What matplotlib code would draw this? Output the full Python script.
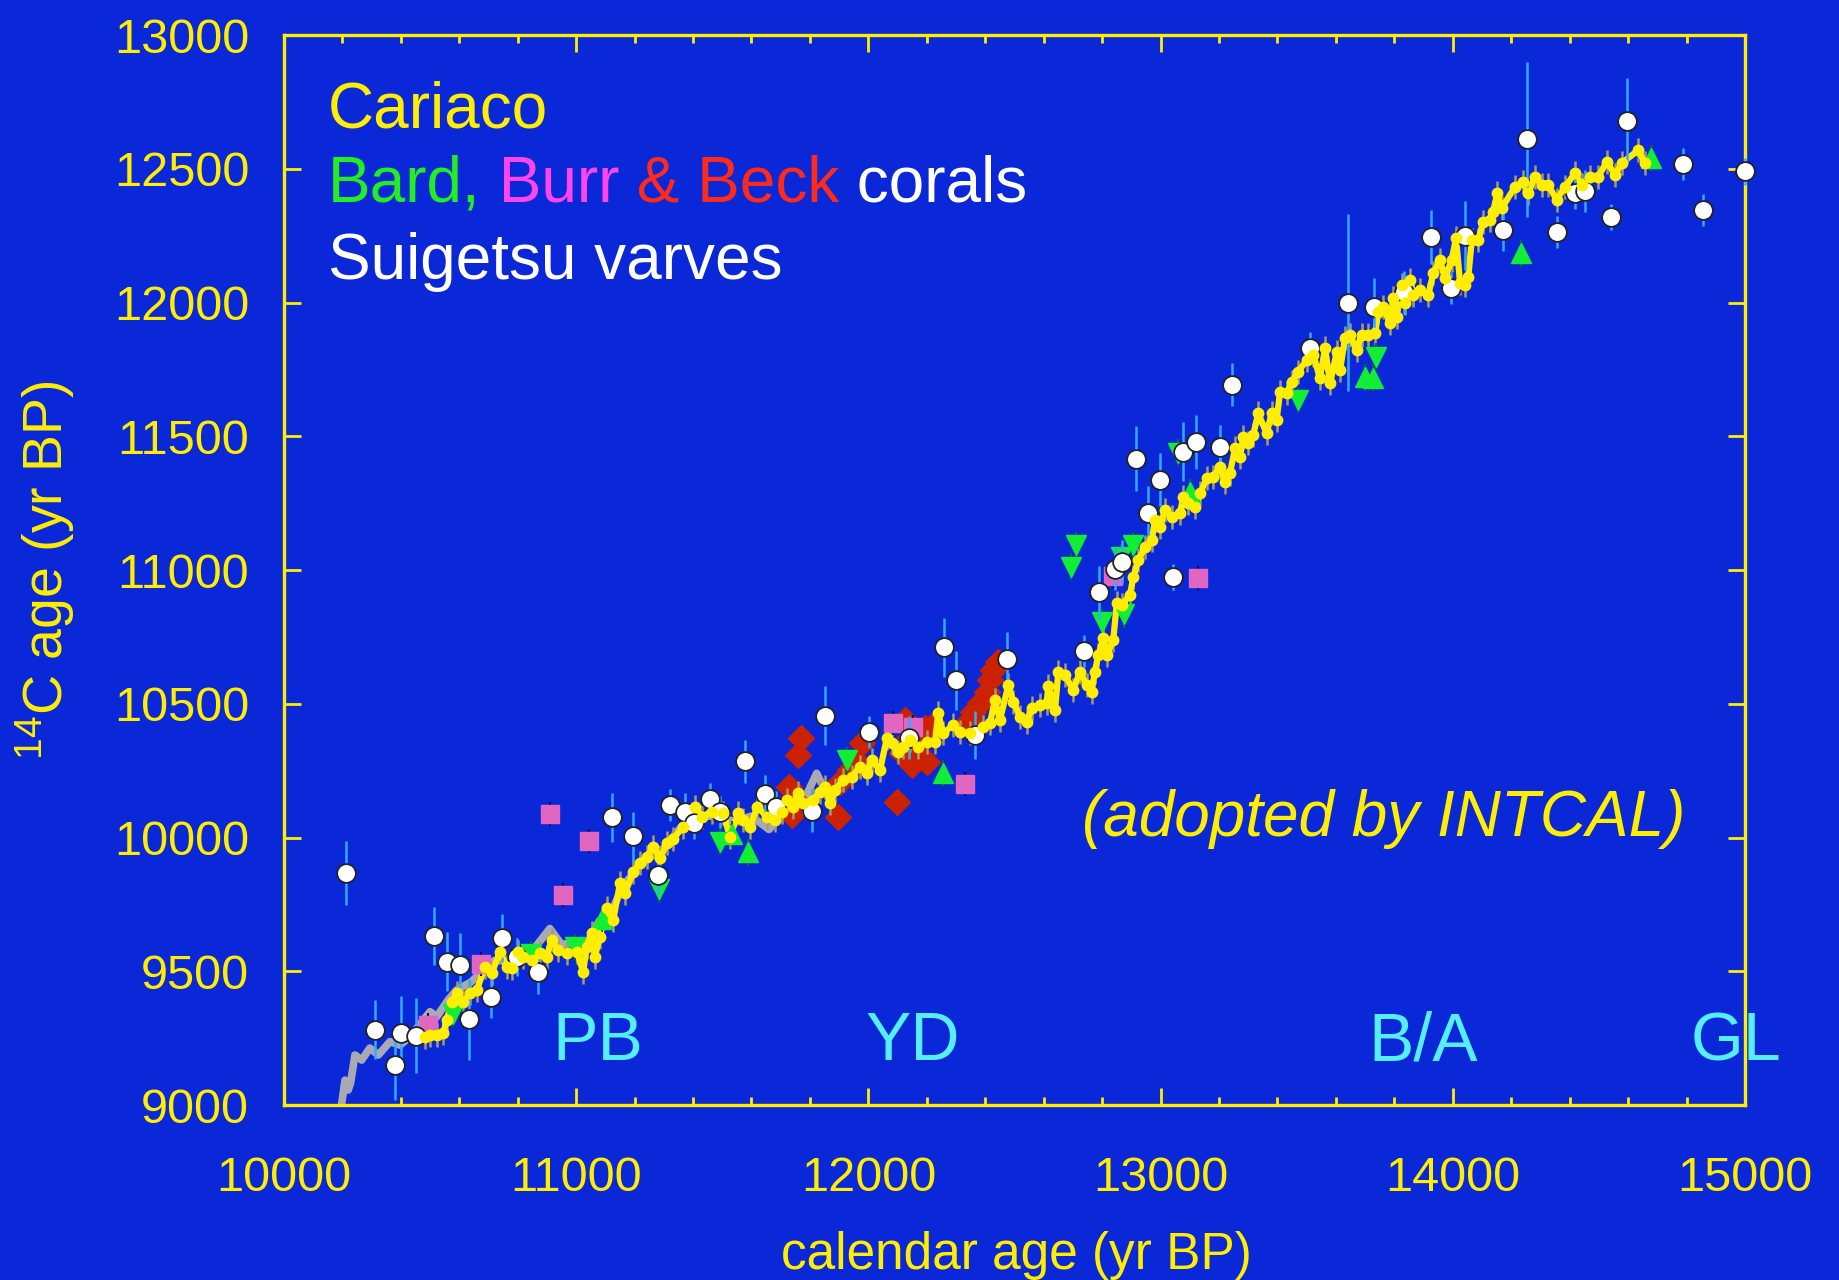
import matplotlib
matplotlib.use("Agg")
import matplotlib.pyplot as plt
from matplotlib.ticker import MultipleLocator

plt.rcParams['font.family'] = ['Liberation Sans', 'DejaVu Sans']
plt.rcParams['mathtext.fontset'] = 'custom'
plt.rcParams['mathtext.rm'] = 'Liberation Sans'
plt.rcParams['mathtext.it'] = 'Liberation Sans:italic'

BG = '#0a28d8'
YEL = '#ffee00'
CYAN = '#55eeff'

# Cariaco basin record (calendar age, 14C age)
cariaco_cal = [10483, 10500, 10523, 10545, 10557, 10574, 10591, 10614, 10637, 10660,
               10688, 10711, 10739, 10762, 10779, 10800, 10819, 10848, 10876, 10899,
               10916, 10939, 10967, 11002, 11024, 11036, 11053, 11064, 11081, 11104,
               11127, 11150, 11167, 11195, 11218, 11241, 11264, 11287, 11310, 11332,
               11367, 11407, 11430, 11464, 11504, 11526, 11555, 11572, 11595, 11620,
               11652, 11680, 11703, 11720, 11743, 11760, 11777, 11811, 11834, 11851,
               11869, 11886, 11914, 11943, 11971, 11994, 12011, 12040, 12063, 12080,
               12100, 12120, 12142, 12171, 12199, 12228, 12239, 12256, 12291, 12314,
               12348, 12393, 12416, 12433, 12450, 12479, 12496, 12519, 12542, 12559,
               12587, 12610, 12616, 12639, 12650, 12673, 12701, 12724, 12747, 12764,
               12775, 12787, 12804, 12815, 12838, 12850, 12867, 12895, 12907, 12924,
               12947, 12970, 12981, 12998, 13015, 13038, 13066, 13078, 13095, 13118,
               13135, 13158, 13180, 13203, 13220, 13237, 13255, 13272, 13283, 13300,
               13317, 13334, 13363, 13380, 13397, 13409, 13431, 13449, 13471, 13500,
               13523, 13545, 13563, 13580, 13603, 13614, 13631, 13648, 13671, 13688,
               13710, 13734, 13745, 13762, 13785, 13796, 13808, 13825, 13836, 13853,
               13865, 13888, 13916, 13933, 13956, 13973, 13996, 14011, 14025, 14042,
               14053, 14065, 14087, 14104, 14127, 14138, 14152, 14167, 14213, 14241,
               14258, 14281, 14304, 14327, 14355, 14384, 14418, 14441, 14469, 14498,
               14527, 14555, 14578, 14635, 14658]
cariaco_c14 = [9255, 9262, 9262, 9268, 9318, 9386, 9418, 9386, 9418, 9430,
               9517, 9492, 9573, 9517, 9511, 9573, 9555, 9542, 9567, 9555,
               9617, 9580, 9567, 9573, 9498, 9592, 9642, 9555, 9630, 9735,
               9692, 9829, 9791, 9872, 9904, 9928, 9966, 9922, 9978, 9995,
               10041, 10115, 10078, 10097, 10090, 10003, 10090, 10066, 10041, 10115,
               10078, 10066, 10097, 10140, 10115, 10165, 10128, 10140, 10171, 10190,
               10128, 10178, 10215, 10227, 10265, 10240, 10290, 10252, 10371, 10352,
               10320, 10340, 10365, 10340, 10358, 10358, 10464, 10390, 10421, 10396,
               10390, 10414, 10427, 10514, 10439, 10570, 10508, 10452, 10433, 10483,
               10495, 10502, 10567, 10477, 10620, 10607, 10551, 10620, 10570, 10545,
               10620, 10682, 10745, 10682, 10738, 10875, 10869, 10907, 10975, 11037,
               11087, 11112, 11187, 11162, 11224, 11199, 11212, 11274, 11249, 11237,
               11287, 11343, 11349, 11386, 11330, 11361, 11455, 11424, 11498, 11474,
               11505, 11586, 11511, 11586, 11561, 11667, 11661, 11704, 11742, 11785,
               11804, 11717, 11829, 11698, 11816, 11747, 11866, 11879, 11822, 11879,
               11880, 11885, 11966, 11985, 11922, 12016, 11947, 12065, 11997, 12084,
               12028, 12047, 12028, 12109, 12159, 12090, 12159, 12240, 12072, 12066,
               12097, 12234, 12234, 12302, 12309, 12340, 12408, 12352, 12433, 12452,
               12408, 12471, 12440, 12440, 12384, 12433, 12483, 12440, 12471, 12471,
               12527, 12477, 12521, 12570, 12521]
cariaco_err = 45

# earlier Cariaco version (grey)
grey_cal = [10197, 10209, 10220, 10228, 10243, 10266, 10294, 10323, 10363, 10397,
            10431, 10500, 10523, 10562, 10591, 10640, 10680, 10720, 10770, 10820,
            10860, 10910, 10950, 11000, 11040, 11080, 11120, 11160, 11200, 11240,
            11300, 11360, 11420, 11480, 11540, 11600, 11660, 11720, 11780, 11823,
            11850, 11900]
grey_c14 = [9000, 9093, 9056, 9082, 9187, 9168, 9213, 9187, 9237, 9224,
            9255, 9349, 9330, 9393, 9430, 9460, 9500, 9540, 9540, 9580,
            9590, 9660, 9600, 9610, 9610, 9690, 9720, 9820, 9870, 9920,
            9960, 10040, 10080, 10080, 10060, 10080, 10030, 10110, 10140, 10240,
            10180, 10200]

# Lake Suigetsu varves
sui_cal = [10213, 10313, 10381, 10401, 10453, 10514, 10558, 10602, 10634, 10710,
           10746, 10799, 10871, 11124, 11196, 11280, 11320, 11372, 11404, 11457,
           11493, 11577, 11645, 11685, 11806, 11850, 12002, 12139, 12259, 12299,
           12364, 12476, 12737, 12789, 12845, 12869, 12917, 12957, 12998, 13042,
           13078, 13122, 13202, 13246, 13511, 13640, 13732, 13832, 13925, 13993,
           14041, 14173, 14254, 14358, 14418, 14454, 14543, 14595, 14787, 14856,
           15000]
sui_c14 = [9868, 9281, 9149, 9268, 9259, 9632, 9535, 9522, 9320, 9404,
           9623, 9553, 9496, 10075, 10004, 9860, 10123, 10097, 10053, 10145,
           10097, 10285, 10162, 10114, 10101, 10456, 10395, 10373, 10711, 10588,
           10382, 10667, 10697, 10917, 11004, 11031, 11417, 11215, 11338, 10974,
           11443, 11478, 11461, 11693, 11829, 12000, 11982, 12039, 12246, 12053,
           12250, 12272, 12610, 12263, 12408, 12417, 12320, 12680, 12518, 12346,
           12491]
sui_err = [120, 110, 130, 140, 140, 110, 110, 120, 150, 80,
           90, 70, 80, 90, 90, 70, 60, 70, 60, 60,
           60, 80, 70, 60, 80, 110, 60, 80, 110, 110,
           90, 100, 60, 100, 80, 80, 120, 100, 100, 50,
           110, 100, 80, 80, 60, 330, 110, 80, 100, 60,
           130, 80, 290, 60, 60, 80, 50, 160, 60, 60,
           50]

# Bard corals (two sites)
bard_dn_cal = [10578, 10847, 10996, 11284, 11493, 11926, 12693, 12711, 12798, 12866,
               12875, 12905, 13060, 13471, 13737]
bard_dn_c14 = [9340, 9565, 9590, 9807, 9985, 10289, 11013, 11092, 10806, 11048,
               10834, 11092, 11439, 11636, 11798]
bard_up_cal = [11087, 11533, 11589, 12256, 13100, 13700, 13728, 14235, 14679]
bard_up_c14 = [9697, 10013, 9945, 10241, 11292, 11721, 11719, 12184, 12540]
bard_err = 50

# Burr corals
burr_cal = [10492, 10675, 10911, 10955, 11044, 12083, 12154, 12331, 12836, 13127]
burr_c14 = [9298, 9526, 10088, 9785, 9986, 10427, 10413, 10200, 10978, 10970]
burr_err = 45
burr_cal_err = 25

# Beck corals
beck_cal = [11729, 11737, 11743, 11760, 11769, 11897, 11903, 11937, 11960, 11977,
            12097, 12114, 12125, 12142, 12148, 12165, 12193, 12199, 12216, 12336,
            12359, 12365, 12382, 12405, 12416, 12427, 12445]
beck_c14 = [10190, 10084, 10147, 10308, 10371, 10078, 10209, 10252, 10283, 10352,
            10134, 10315, 10439, 10377, 10271, 10340, 10408, 10283, 10414, 10427,
            10471, 10414, 10502, 10545, 10589, 10626, 10657]
beck_err = 40

periods = ['PB', 'YD', 'B/A', 'GL']
period_cal = [11075, 12153, 13898, 14969]

fig = plt.figure(figsize=(18.39, 12.8), dpi=100, facecolor=BG)
ax = fig.add_axes([0.1544, 0.1367, 0.7945, 0.8359], facecolor=BG)

ax.plot(grey_cal, grey_c14, color='#a9a9b4', lw=5.5, zorder=2)

ax.errorbar(beck_cal, beck_c14, yerr=beck_err, fmt='D', ms=13, color='#cc2200',
            mec='#cc2200', ecolor='#a02890', elinewidth=1.5, capsize=0, zorder=2.6)

ax.errorbar(cariaco_cal, cariaco_c14, yerr=cariaco_err, fmt='none',
            ecolor='#a39c6c', elinewidth=1.8, zorder=2.8)
ax.plot(cariaco_cal, cariaco_c14, color=YEL, lw=4.5, zorder=3)

ax.errorbar(burr_cal, burr_c14, yerr=burr_err, xerr=burr_cal_err, fmt='s', ms=13.5,
            color='#e066c2', mec='#e066c2', ecolor='#101040', elinewidth=1.5,
            capsize=0, zorder=3.5)
ax.errorbar(bard_dn_cal, bard_dn_c14, yerr=bard_err, fmt='v', ms=14, color='#11ee33',
            mec='#11ee33', ecolor='#0b6a3a', elinewidth=1.5, capsize=0, zorder=3.5)
ax.errorbar(bard_up_cal, bard_up_c14, yerr=bard_err, fmt='^', ms=14, color='#11ee33',
            mec='#11ee33', ecolor='#0b6a3a', elinewidth=1.5, capsize=0, zorder=3.5)

sui = ax.errorbar(sui_cal, sui_c14, yerr=sui_err, fmt='o', ms=13.5, color='white',
                  mec='#222222', mew=1.3, ecolor='#33aaff', elinewidth=1.8,
                  capsize=0, zorder=4)
for art in [sui.lines[0]] + list(sui.lines[2]):
    art.set_clip_on(False)

ax.plot(cariaco_cal, cariaco_c14, 'o', color=YEL, ms=7.5, zorder=4.5)

ax.set_xlim(10000, 15000)
ax.set_ylim(9000, 13000)
ax.xaxis.set_major_locator(MultipleLocator(1000))
ax.xaxis.set_minor_locator(MultipleLocator(200))
ax.yaxis.set_major_locator(MultipleLocator(500))
ax.tick_params(which='both', direction='in', top=True, right=True, color=YEL,
               width=2)
ax.tick_params(which='major', length=12)
ax.tick_params(which='minor', length=6)
ax.tick_params(axis='x', which='major', pad=37, labelsize=35, labelcolor=YEL)
ax.tick_params(axis='y', which='major', pad=25, labelsize=35, labelcolor=YEL)
for sp in ax.spines.values():
    sp.set_color(YEL)
    sp.set_linewidth(2.4)

fig.text(0.5525, 1 - 1255 / 1280, 'calendar age (yr BP)', color=YEL, fontsize=37,
         ha='center', va='center')
fig.text(0.0243, 0.5547, r'$^{14}$C age (yr BP)', color=YEL, fontsize=40,
         ha='center', va='center', rotation=90)

for name, x in zip(periods, period_cal):
    ax.text(x, 9235, name, color=CYAN, fontsize=49, ha='center', va='center')

ax.text(14795, 10069, '(adopted by INTCAL)', color=YEL, fontsize=46,
        style='italic', ha='right', va='center')

fs = 46
fig.text(0.1784, 1 - 127 / 1280, 'Cariaco', color=YEL, fontsize=fs, va='baseline')
t = fig.text(0.1784, 1 - 202 / 1280, 'Bard,', color='#22ee22', fontsize=fs,
             va='baseline')
for s, c in [(' Burr', '#ff44ee'), (' & Beck', '#ff2a1a'), (' corals', 'white')]:
    t = ax.annotate(s, xy=(1, 0), xycoords=t, va='bottom', color=c, fontsize=fs,
                    annotation_clip=False)
fig.text(0.1784, 1 - 279 / 1280, 'Suigetsu varves', color='white', fontsize=fs,
         va='baseline')

fig.savefig('out.png', dpi=100, facecolor=BG)
